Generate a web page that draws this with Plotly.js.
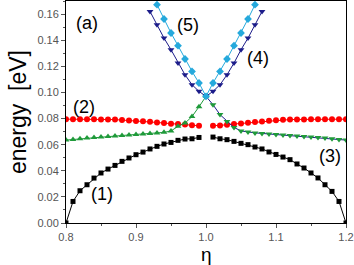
<!DOCTYPE html>
<html><head><meta charset="utf-8">
<script src="https://cdn.plot.ly/plotly-3.0.1.min.js"></script>
<style>html,body{margin:0;padding:0;background:#fff}#chart{width:354px;height:265px}</style>
</head><body><div id="chart"></div>
<script>
const etaAll = [0.80,0.81,0.82,0.83,0.84,0.85,0.86,0.87,0.88,0.89,0.90,0.91,0.92,0.93,0.94,0.95,0.96,0.97,0.98,0.99,1.00,1.01,1.02,1.03,1.04,1.05,1.06,1.07,1.08,1.09,1.10,1.11,1.12,1.13,1.14,1.15,1.16,1.17,1.18,1.19,1.20];
const mode1 = [0,0.0165,0.0247,0.0293,0.0344,0.0383,0.0413,0.0441,0.0472,0.0498,0.0523,0.0543,0.0567,0.0587,0.0605,0.0617,0.0633,0.0643,0.0645,0.0655,null,0.0658,0.0645,0.0638,0.0625,0.0610,0.0600,0.0582,0.0567,0.0544,0.0525,0.0505,0.0485,0.0452,0.0421,0.0383,0.0345,0.0293,0.0242,0.0165,0];
const mode2 = [0.0795,0.0795,0.0795,0.0794,0.0794,0.0793,0.0793,0.0792,0.0788,0.0785,0.0782,0.0780,0.0775,0.0770,0.0765,0.0760,0.0758,0.0755,0.0748,0.0745,null,0.0745,0.0747,0.0752,0.0758,0.0762,0.0768,0.0774,0.0778,0.0783,0.0786,0.0790,0.0792,0.0793,0.0793,0.0794,0.0794,0.0795,0.0795,0.0795,0.0795];
const etaLeft = [0.80,0.81,0.82,0.83,0.84,0.85,0.86,0.87,0.88,0.89,0.90,0.91,0.92,0.93,0.94,0.95,0.96,0.97,0.98,0.99,1.00];
const mode3Left = [0.0635,0.0640,0.0645,0.0650,0.0654,0.0658,0.0662,0.0666,0.0670,0.0674,0.0678,0.0682,0.0686,0.0690,0.0694,0.0705,0.0740,0.0765,0.0815,0.0890,0.0970];
const etaRight = [1.00,1.01,1.02,1.03,1.04,1.05,1.06,1.07,1.08,1.09,1.10,1.11,1.12,1.13,1.14,1.15,1.16,1.17,1.18,1.19,1.20];
const mode3Right = [0.0970,0.0906,0.0830,0.0778,0.0732,0.0705,0.0696,0.0690,0.0686,0.0682,0.0678,0.0674,0.0670,0.0666,0.0662,0.0658,0.0654,0.0650,0.0645,0.0640,0.0635];
const eta4 = [0.92,0.93,0.94,0.95,0.96,0.97,0.98,0.99,1.00,1.01,1.02,1.03,1.04,1.05,1.06,1.07,1.08];
const mode4 = [0.1620,0.1518,0.1416,0.1327,0.1225,0.1135,0.1059,0.1008,0.0970,0.1008,0.1059,0.1135,0.1225,0.1327,0.1416,0.1518,0.1620];
const eta5 = [0.93,0.94,0.95,0.96,0.97,0.98,0.99,1.00,1.01,1.02,1.03,1.04,1.05,1.06,1.07];
const mode5 = [0.1672,0.1562,0.1455,0.1358,0.1256,0.1161,0.1072,0.0970,0.1072,0.1161,0.1256,0.1358,0.1455,0.1562,0.1672];
const labels = ['(a)','(1)','(2)','(3)','(4)','(5)'];
const labelX = [0.830,0.852,0.826,1.177,1.074,0.974];
const labelY = [0.1534,0.0224,0.0887,0.0511,0.1263,0.1518];
const xTitle = 'η';
const yTitle = 'energy  [eV]';

const GREEN = '#1f9a3a', NAVY = '#1c1c8a', CYAN = '#25a9dc';
const FONT = 'Liberation Sans, Arial, sans-serif';
const traces = [
  {x: etaAll, y: mode1, mode:'lines+markers', connectgaps:false, line:{color:'#000',width:1}, marker:{symbol:'square',size:5,color:'#000'}},
  {x: etaAll, y: mode2, mode:'lines+markers', connectgaps:false, line:{color:'#ff0000',width:1}, marker:{symbol:'circle',size:6,color:'#ff0000'}},
  {x: etaLeft, y: mode3Left, mode:'lines+markers', line:{color:GREEN,width:1}, marker:{symbol:'triangle-up',size:6,color:GREEN}},
  {x: etaRight, y: mode3Right, mode:'lines+markers', line:{color:NAVY,width:1}, marker:{symbol:'triangle-down',size:6,color:GREEN}},
  {x: eta4, y: mode4, mode:'lines+markers', line:{color:NAVY,width:1}, marker:{symbol:'triangle-down',size:6,color:NAVY}},
  {x: eta5, y: mode5, mode:'lines+markers', line:{color:CYAN,width:1}, marker:{symbol:'diamond',size:6,color:CYAN}}
];
const tickFont = {family:FONT, size:11, color:'#555'};
const annotations = labels.map((t,i)=>({text:t, x:labelX[i], y:labelY[i], xref:'x', yref:'y', showarrow:false,
    font:{family:FONT, size:18, color:'#000'}}));
annotations.push({text:xTitle, xref:'paper', yref:'paper', x:0.5, y:0, yshift:-31, yanchor:'middle', showarrow:false,
    borderpad:0, font:{family:FONT, size:19, color:'#000'}});
const layout = {
  width:354, height:265, showlegend:false,
  margin:{l:66, r:8, t:1, b:42},
  paper_bgcolor:'#fff', plot_bgcolor:'#fff',
  xaxis:{range:[0.8,1.2], tickvals:[0.8,0.9,1.0,1.1,1.2], ticktext:['0.8','0.9','1.0','1.1','1.2'],
    ticks:'outside', ticklen:4, tickcolor:'#555', showline:true, linecolor:'#000', linewidth:1, mirror:true,
    showgrid:false, zeroline:false, tickfont:tickFont, automargin:false,
    minor:{dtick:0.05, tick0:0.8, ticks:'outside', ticklen:2, tickcolor:'#555', showgrid:false}},
  yaxis:{range:[0,0.17], tickvals:[0,0.02,0.04,0.06,0.08,0.10,0.12,0.14,0.16], ticktext:['0.00','0.02','0.04','0.06','0.08','0.10','0.12','0.14','0.16'],
    ticks:'outside', ticklen:4, tickcolor:'#555', showline:true, linecolor:'#000', linewidth:1, mirror:true,
    showgrid:false, zeroline:false, tickfont:tickFont, automargin:false,
    minor:{dtick:0.01, tick0:0, ticks:'outside', ticklen:2, tickcolor:'#555', showgrid:false},
    title:{text:yTitle, font:{family:FONT, size:23, color:'#000'}, standoff:4}},
  xaxis2:{overlaying:'x', side:'top', range:[0.8,1.2], dtick:0.1, tick0:0.8, ticks:'inside', ticklen:4, tickcolor:'#555',
    showticklabels:false, showgrid:false, zeroline:false, showline:false,
    minor:{dtick:0.05, tick0:0.8, ticks:'inside', ticklen:2, tickcolor:'#555', showgrid:false}},
  yaxis2:{overlaying:'y', side:'right', range:[0,0.17], dtick:0.02, tick0:0, ticks:'inside', ticklen:4, tickcolor:'#555',
    showticklabels:false, showgrid:false, zeroline:false, showline:false,
    minor:{dtick:0.01, tick0:0, ticks:'inside', ticklen:2, tickcolor:'#555', showgrid:false}},
  annotations: annotations
};
Plotly.newPlot('chart', traces, layout, {staticPlot:true, displayModeBar:false});
</script></body></html>
